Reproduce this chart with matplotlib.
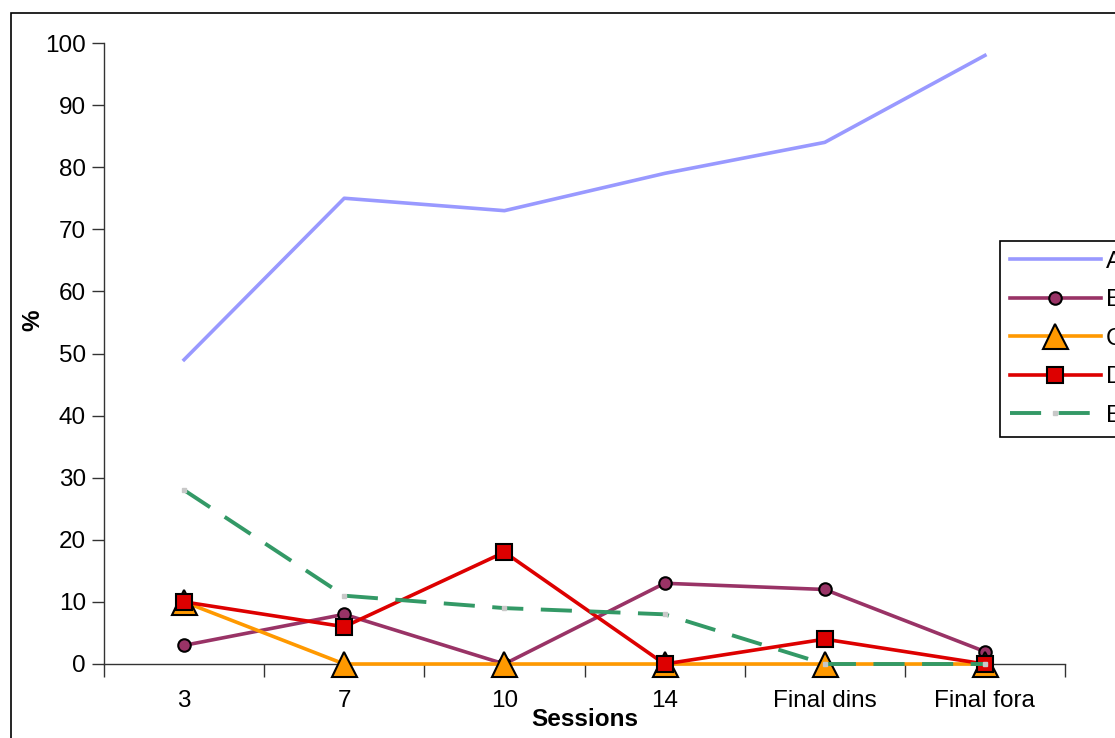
import matplotlib.pyplot as plt
from matplotlib.patches import Rectangle

plt.rcParams['font.family'] = ['Liberation Sans', 'DejaVu Sans']

sessions = ['3', '7', '10', '14', 'Final dins', 'Final fora']
serie_a = [49, 75, 73, 79, 84, 98]
serie_b = [3, 8, 0, 13, 12, 2]
serie_c = [10, 0, 0, 0, 0, 0]
serie_d = [10, 6, 18, 0, 4, 0]
serie_e = [28, 11, 9, 8, 0, 0]

fs = 17.5

fig = plt.figure(figsize=(11.15, 7.38), dpi=100)
ax = fig.add_axes([104 / 1115, 1 - 664 / 738, 961 / 1115, 621 / 738])

# series drawn above the axis line, markers not clipped at zero
x = range(len(sessions))
ax.plot(x, serie_a, color='#9999FF', lw=2.6, label='A', clip_on=False, zorder=3)
ax.plot(x, serie_b, color='#993366', lw=2.6, marker='o', ms=9,
        mfc='#993366', mec='black', mew=1.5, label='B', clip_on=False, zorder=3)
ax.plot(x, serie_c, color='#FF9900', lw=2.6, marker='^', ms=18,
        mfc='#FF9900', mec='black', mew=1.5, label='C', clip_on=False, zorder=3)
ax.plot(x, serie_d, color='#DD0000', lw=2.6, marker='s', ms=11,
        mfc='#DD0000', mec='black', mew=1.5, label='D', clip_on=False, zorder=3)
ax.plot(x, serie_e, color='#339966', lw=2.8, ls=(0, (8, 4.5)), marker='s', ms=3,
        mfc='#C8C8C8', mec='#C8C8C8', label='E', clip_on=False, zorder=3)

ax.set_xlim(-0.5, len(sessions) - 0.5)
ax.set_ylim(0, 100)
ax.set_yticks(range(0, 101, 10))
ax.set_xticks([i - 0.5 for i in range(len(sessions) + 1)])
ax.set_xticklabels([])
ax.set_xticks(list(x), minor=True)
ax.set_xticklabels(sessions, minor=True)
ax.tick_params(axis='x', which='minor', length=0, pad=19, labelsize=fs)
ax.tick_params(axis='x', which='major', length=9, width=1, color='#333333')
ax.tick_params(axis='y', length=9, width=1, color='#333333', pad=4, labelsize=fs)

for side in ['top', 'right']:
    ax.spines[side].set_visible(False)
for side in ['left', 'bottom']:
    ax.spines[side].set_color('#333333')
    ax.spines[side].set_linewidth(1)

fig.text(585 / 1115, 1 - 720 / 738, 'Sessions', ha='center', va='center',
         fontsize=fs, fontweight='bold')
fig.text(33 / 1115, 1 - 320 / 738, '%', ha='center', va='center',
         fontsize=fs, fontweight='bold', rotation=90)

# outer frame, runs off the right and bottom edges
fig.patches.append(Rectangle((11 / 1115, -0.1), 1.2, 1 - 13 / 738 + 0.1,
                             transform=fig.transFigure, fill=False,
                             ec='black', lw=1.2))

leg = fig.legend(loc='upper left', bbox_to_anchor=(1000 / 1115, 1 - 241 / 738),
                 fontsize=fs, handlelength=3.75, handletextpad=0.2,
                 labelspacing=0.68, borderpad=0.4, borderaxespad=0,
                 fancybox=False, framealpha=1, edgecolor='black')
leg.get_frame().set_linewidth(1.2)

fig.savefig('out.png', dpi=100)
